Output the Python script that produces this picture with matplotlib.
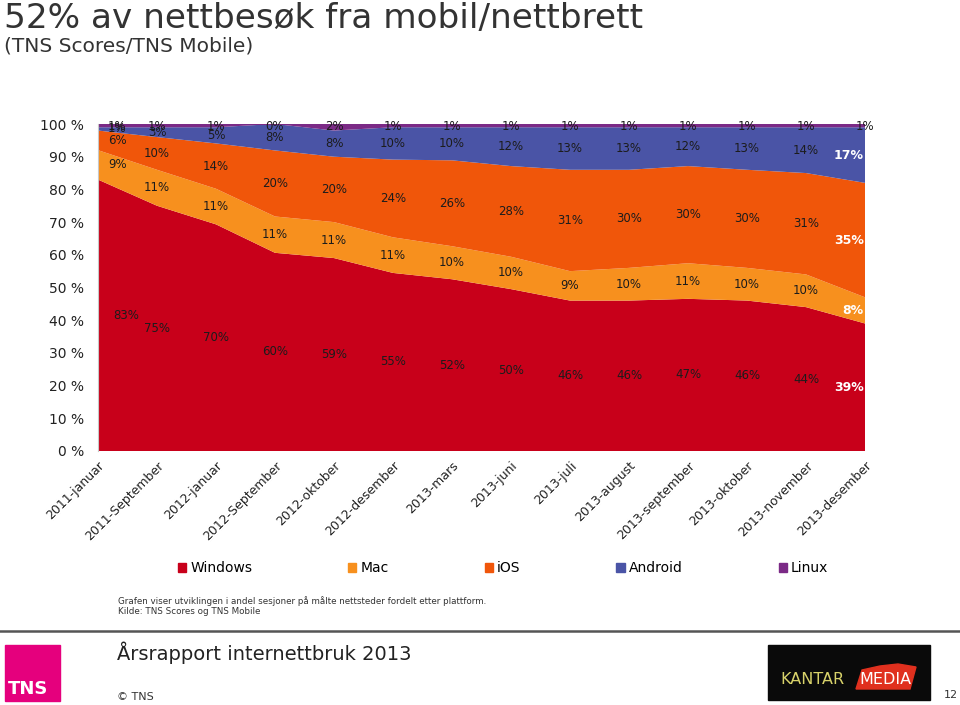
import numpy as np
import matplotlib
matplotlib.use("Agg")
import matplotlib.pyplot as plt
from matplotlib.patches import Patch, Rectangle, Polygon

# data
months = ['2011-januar', '2011-September', '2012-januar', '2012-September',
          '2012-oktober', '2012-desember', '2013-mars', '2013-juni', '2013-juli',
          '2013-august', '2013-september', '2013-oktober', '2013-november',
          '2013-desember']
windows = [83, 75, 70, 60, 59, 55, 52, 50, 46, 46, 47, 46, 44, 39]
mac = [9, 11, 11, 11, 11, 11, 10, 10, 9, 10, 11, 10, 10, 8]
ios = [6, 10, 14, 20, 20, 24, 26, 28, 31, 30, 30, 30, 31, 35]
android = [1, 3, 5, 8, 8, 10, 10, 12, 13, 13, 12, 13, 14, 17]
linux = [1, 1, 1, 0, 2, 1, 1, 1, 1, 1, 1, 1, 1, 1]
names = ['Windows', 'Mac', 'iOS', 'Android', 'Linux']
colors = ['#c8001a', '#f7901e', '#f0560a', '#4a54a6', '#7b2a86']

W, H = 960, 705
def fx(x):
    return x / W
def fy(y):
    return 1 - y / H

fig = plt.figure(figsize=(9.6, 7.05), dpi=100)
ax = fig.add_axes([fx(98), fy(451), fx(865) - fx(98), fy(124) - fy(451)])

raw = np.array([windows, mac, ios, android, linux], dtype=float)
share = raw / raw.sum(axis=0) * 100   # 100% stacked, like the original
x = np.arange(len(months))
ax.stackplot(x, share, colors=colors, linewidth=0)
ax.plot(x, share.sum(axis=0), color=colors[4], lw=1.5)

# data labels in the middle of each band
cum = np.cumsum(share, axis=0)
n = len(months)
for s in range(5):
    for i in range(n):
        mid = cum[s, i] - share[s, i] / 2
        if s == 4:
            mid = 99.3
        xi, ha = x[i], 'center'
        if i == 0:
            xi, ha = x[i] + 0.17, 'left'
            if s == 0:
                xi = x[i] + 0.25
        elif i == n - 1 and s < 4:
            xi, ha = x[i] - 0.02, 'right'
        last = (i == n - 1 and s < 4)
        ax.text(xi, mid, f'{int(raw[s, i])}%', ha=ha, va='center',
                fontsize=9 if last else 8.5,
                color='white' if last else '#1c1c1c',
                fontweight='bold' if last else 'normal')

ax.set_xlim(0, n - 1)
ax.set_ylim(0, 100)
ax.set_yticks(np.arange(0, 101, 10))
ax.set_yticklabels([f'{v} %' for v in range(0, 101, 10)], fontsize=10, color='#222222')
ax.set_xticks(x)
ax.set_xticklabels(months, rotation=45, ha='right', va='top',
                   rotation_mode='anchor', fontsize=9, color='#222222')
ax.tick_params(axis='both', length=0, pad=10)
ax.tick_params(axis='x', pad=6)
for sp in ['top', 'right', 'bottom']:
    ax.spines[sp].set_visible(False)
ax.spines['left'].set_color('#c8c8c8')

handles = [Patch(color=c) for c in colors]
fig.legend(handles, names, loc='center', bbox_to_anchor=(fx(503), fy(568)),
           ncol=5, frameon=False, fontsize=10, handlelength=0.6,
           handleheight=0.6, handletextpad=0.3, columnspacing=6.9)

fig.text(fx(4), fy(28), '52% av nettbesøk fra mobil/nettbrett', fontsize=24.7,
         color='#333333', va='baseline')
fig.text(fx(4), fy(46), '(TNS Scores/TNS Mobile)', fontsize=14.5,
         color='#333333', va='center')

fig.text(fx(118), fy(601), 'Grafen viser utviklingen i andel sesjoner på målte nettsteder fordelt etter plattform.',
         fontsize=6.3, color='#333333', va='center')
fig.text(fx(118), fy(612), 'Kilde: TNS Scores og TNS Mobile',
         fontsize=6.3, color='#333333', va='center')

fig.add_artist(plt.Line2D([0, 1], [fy(631), fy(631)], color='#555555', lw=1.8))
fig.text(fx(117), fy(653), 'Årsrapport internettbruk 2013', fontsize=14,
         color='#222222', va='center')
fig.text(fx(117), fy(697), '© TNS', fontsize=8, color='#333333', va='center')
fig.text(fx(958), fy(695), '12', fontsize=8, color='#333333', va='center', ha='right')

# TNS logo
fig.add_artist(Rectangle((fx(5), fy(701)), fx(60) - fx(5), fy(645) - fy(701),
                         transform=fig.transFigure, color='#e5007d'))
fig.text(fx(8), fy(689), 'TNS', fontsize=13, fontweight='bold', color='white',
         va='center')

# Kantar Media logo
fig.add_artist(Rectangle((fx(768), fy(700)), fx(930) - fx(768), fy(645) - fy(700),
                         transform=fig.transFigure, color='#0a0a0a'))
fig.add_artist(Polygon([(fx(856), fy(689)), (fx(910), fy(689)), (fx(916), fy(667)),
                        (fx(898), fy(664)), (fx(880), fy(666)), (fx(862), fy(670))],
                       closed=True, transform=fig.transFigure, color='#e0301e'))
fig.text(fx(780), fy(679), 'KANTAR', fontsize=11.5, color='#d8d26a', va='center')
fig.text(fx(859), fy(679), 'MEDIA', fontsize=11.5, color='white', va='center')

fig.savefig('out.png', dpi=100)
